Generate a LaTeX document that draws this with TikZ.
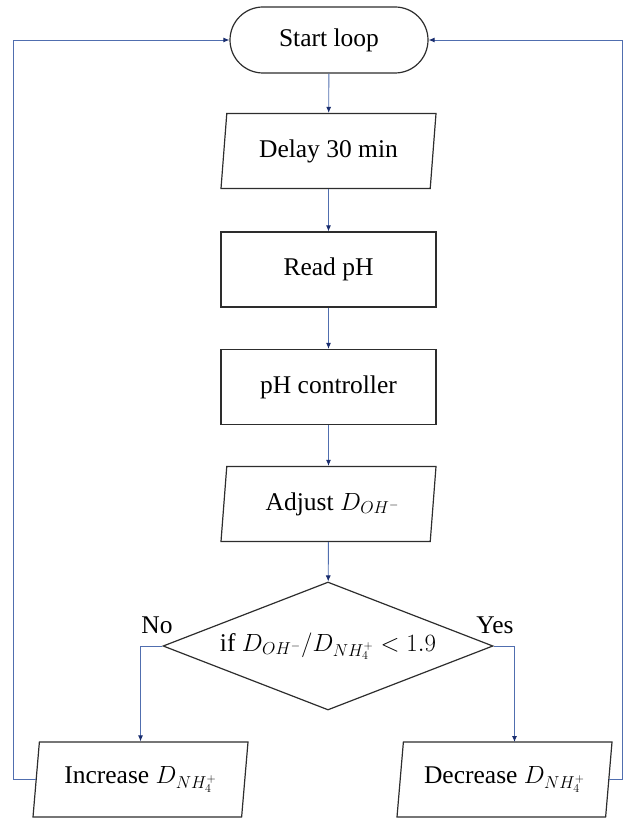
\documentclass[tikz,border=0pt]{standalone}
\usepackage{fontspec}
\setmainfont{Liberation Serif}
\usetikzlibrary{shapes.geometric,shapes.misc,arrows.meta,calc}
\definecolor{lnc}{RGB}{80,110,175}
\definecolor{tipc}{RGB}{25,45,110}
\definecolor{bdr}{RGB}{45,45,45}
\begin{document}
\begin{tikzpicture}[x=1pt,y=-1pt,
  font=\fontsize{25.5}{30}\selectfont,
  box/.style={draw=bdr,line width=1.2pt,rectangle,minimum width=215pt,minimum height=75pt,inner sep=0pt},
  para/.style={draw=bdr,line width=1.2pt,trapezium,trapezium left angle=76,trapezium right angle=104,trapezium stretches body,minimum width=215pt,minimum height=75pt,inner sep=0pt},
  term/.style={draw=bdr,line width=1.2pt,rounded rectangle,minimum width=198pt,minimum height=66pt,inner sep=0pt},
  dec/.style={draw=bdr,line width=1.2pt,diamond,aspect=2.58,minimum width=330pt,minimum height=128pt,inner sep=0pt},
  conn/.style={draw=lnc,line width=0.9pt,-{Latex[length=6pt,width=5pt,color=tipc]}},
  lbl/.style={inner sep=0pt}]
\useasboundingbox (0,0) rectangle (623,818);
\node[term] (start) at (329,40) {Start loop};
\node[para] (delay) at (328.5,151) {Delay 30 min};
\node[box] (read) at (328.5,269.5) {Read pH};
\node[box] (ctrl) at (328.5,387) {pH controller};
\node[para] (adj) at (328.5,504) {\hspace*{8pt}Adjust $D_{OH^-}$};
\node[dec] (dia) at (328,646) {if $D_{OH^-}/D_{NH_4^+}<1.9$};
\node[para] (inc) at (140.5,779.5) {Increase $D_{NH_4^+}$};
\node[para] (decr) at (504.5,779.5) {Decrease $D_{NH_4^+}$};
\node[lbl] (no) at (157,625) {No};
\node[lbl] (yes) at (495,625) {Yes};
\coordinate (dk) at (514.5,742);
\coordinate (lx) at (13,40);
\coordinate (rx) at (622,40);
\draw[conn] (start) -- (delay);
\draw[conn] (delay) -- (read);
\draw[conn] (read) -- (ctrl);
\draw[conn] (ctrl) -- (adj);
\draw[conn] (adj) -- (dia);
\draw[conn] (dia.west) -| (inc.north);
\draw[conn] (dia.east) -| (dk);
\draw[conn] (inc.left side) -| (lx) -- (start.west);
\draw[conn] (decr.right side) -| (rx) -- (start.east);
\end{tikzpicture}
\end{document}
